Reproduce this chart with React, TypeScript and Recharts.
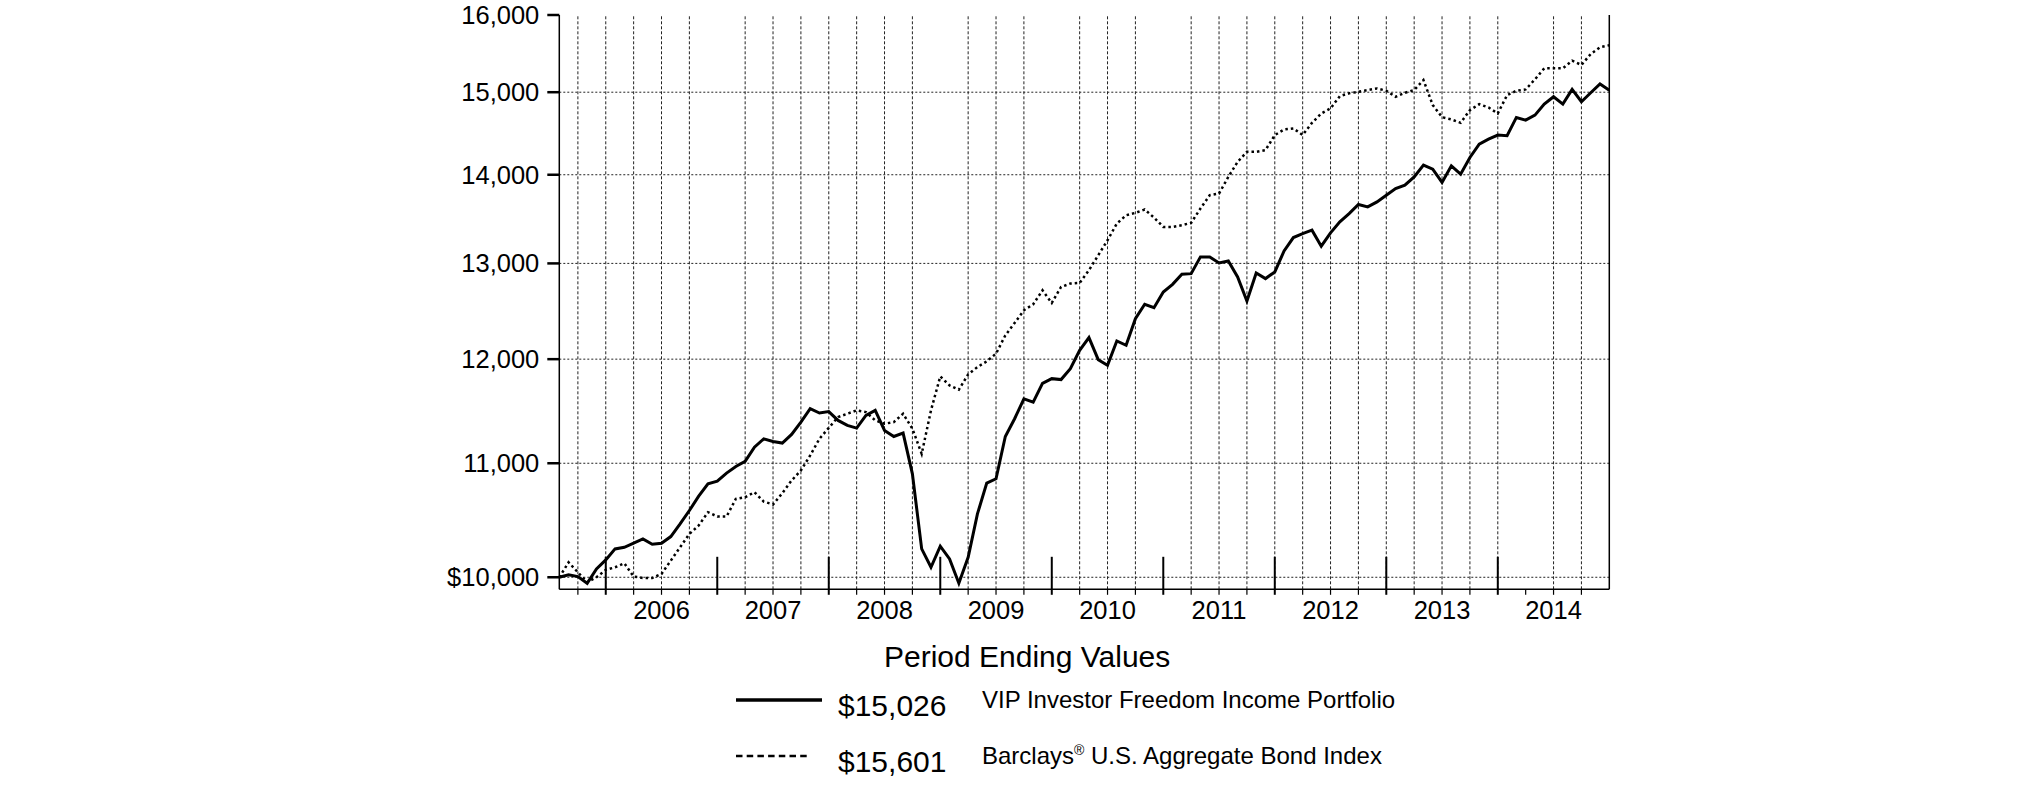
import React from "react";
import { LineChart, Line, XAxis, YAxis, ReferenceLine, Legend } from "recharts";

const FONT = "'Liberation Sans', Arial, Helvetica, sans-serif";

// x = months after Dec 31, 2005; the series start on Jul 31, 2005
const FIRST_MONTH = -5;

const fundValues = [
  10000, 10020, 10006, 9950, 10070,
  10146, 10240, 10254, 10289, 10326, 10280, 10289, 10346, 10456, 10574, 10701, 10813,
  10837, 10910, 10971, 11017, 11149, 11227, 11202, 11187, 11268, 11385, 11514, 11472,
  11485, 11401, 11354, 11328, 11449, 11497, 11306, 11249, 11281, 10903, 10240, 10084,
  10263, 10155, 9950, 10169, 10544, 10819, 10858, 11249, 11417, 11609, 11577, 11760,
  11806, 11797, 11905, 12089, 12218, 11995, 11938, 12184, 12140, 12413, 12563, 12528,
  12693, 12775, 12883, 12889, 13071, 13071, 13005, 13027, 12853, 12598, 12897, 12836,
  12908, 13136, 13284, 13328, 13366, 13188, 13336, 13460, 13553, 13656, 13629, 13686,
  13763, 13840, 13879, 13975, 14113, 14065, 13910, 14105, 14007, 14204, 14363, 14423,
  14472, 14464, 14687, 14654, 14715, 14851, 14943, 14851, 15035, 14881, 14993, 15103,
  15026,
];

const indexValues = [
  10000, 10126, 10042, 9958, 10000,
  10062, 10084, 10118, 10006, 9994, 9994, 10028, 10140, 10254, 10369, 10442, 10559,
  10521, 10521, 10677, 10692, 10737, 10653, 10627, 10728, 10843, 10934, 11072, 11228,
  11330, 11433, 11465, 11497, 11481, 11401, 11370, 11385, 11465, 11322, 11087, 11497,
  11828, 11740, 11698, 11848, 11921, 11978, 12055, 12241, 12369, 12500, 12563, 12711,
  12577, 12747, 12783, 12790, 12926, 13089, 13254, 13440, 13534, 13561, 13599, 13508,
  13403, 13403, 13422, 13448, 13610, 13763, 13782, 13975, 14152, 14271, 14271, 14291,
  14472, 14540, 14553, 14472, 14620, 14736, 14798, 14951, 14986, 15006, 15027, 15047,
  15018, 14943, 14993, 15027, 15153, 14840, 14690, 14663, 14621, 14777, 14851, 14810,
  14736, 14964, 15018, 15035, 15162, 15302, 15302, 15302, 15400, 15345, 15487, 15574,
  15601,
];

const yTicks = [10000, 11000, 12000, 13000, 14000, 15000, 16000];
const yearLabels = ["2006", "2007", "2008", "2009", "2010", "2011", "2012", "2013", "2014"];
const quarterTicks = [
  -3, 0, 3, 6, 9, 12, 15, 18, 21, 24, 27, 30, 33, 36, 39, 42, 45, 48, 51,
  54, 57, 60, 63, 66, 69, 72, 75, 78, 81, 84, 87, 90, 93, 96, 99, 102, 105,
];
// quarter lines that the original grid leaves out
const skippedGridMonths = [12, 36, 48, 60, 99];
const gridMonths = quarterTicks.filter((m) => !skippedGridMonths.includes(m));
const gridValues = yTicks.filter((v) => v < 16000);

const legendItems = [
  { value: "$15,026", name: "VIP Investor Freedom Income Portfolio", dashed: false },
  { value: "$15,601", name: "Barclays", sup: "®", rest: " U.S. Aggregate Bond Index", dashed: true },
];

const data = fundValues.map((v, i) => ({
  m: FIRST_MONTH + i,
  fund: v,
  index: indexValues[i],
}));

const fmtDollar = (v: number) =>
  v === 10000 ? "$10,000" : v.toLocaleString("en-US");

function QuarterTick(props: any) {
  const { x, y, payload } = props;
  const m = payload.value as number;
  const isYear = m % 12 === 0;
  return (
    <g>
      <line
        x1={x}
        x2={x}
        y1={isYear ? y - 32.5 : y}
        y2={y + 5.5}
        stroke="#000"
        strokeWidth={isYear ? 2 : 1.2}
      />
      {m % 12 === 6 && (
        <text
          x={x}
          y={y + 30}
          textAnchor="middle"
          fontSize={25.5}
          fontFamily={FONT}
          fill="#000"
        >
          {yearLabels[(m - 6) / 12]}
        </text>
      )}
    </g>
  );
}

function PeriodLegend() {
  const rows = [700, 756];
  return (
    <svg width={2025} height={806} style={{ display: "block" }}>
      <text x={884} y={667} fontSize={30} fontFamily={FONT} fill="#000">
        Period Ending Values
      </text>
      {legendItems.map((item, i) => {
        const ry = rows[i];
        return (
          <g key={item.value}>
            <line
              x1={736}
              x2={item.dashed ? 810 : 822}
              y1={ry}
              y2={ry}
              stroke="#000"
              strokeWidth={item.dashed ? 2.5 : 3.5}
              strokeDasharray={item.dashed ? "6.5 4.2" : undefined}
            />
            <text x={838} y={ry + 15.5} fontSize={30} fontFamily={FONT} fill="#000">
              {item.value}
            </text>
            <text x={982} y={ry + 7.5} fontSize={24} fontFamily={FONT} fill="#000">
              {item.name}
              {item.sup && (
                <tspan fontSize={14} dy={-9}>
                  {item.sup}
                </tspan>
              )}
              {item.rest && <tspan dy={item.sup ? 9 : 0}>{item.rest}</tspan>}
            </text>
          </g>
        );
      })}
    </svg>
  );
}

export default function App() {
  return (
    <div style={{ position: "absolute", left: 0, top: 0, width: 2025, height: 806, background: "#fff" }}>
      <LineChart
        width={2025}
        height={806}
        data={data}
        margin={{ top: 15, right: 415.7, left: 439.3, bottom: 176.7 }}
      >
        <XAxis
          dataKey="m"
          type="number"
          domain={[FIRST_MONTH, 108]}
          ticks={quarterTicks}
          interval={0}
          height={40}
          tickSize={0}
          tickMargin={0}
          tickLine={false}
          tick={<QuarterTick />}
          axisLine={{ stroke: "#000", strokeWidth: 1.5 }}
        />
        <YAxis
          scale="log"
          domain={[9900, 16000]}
          allowDataOverflow
          ticks={yTicks}
          interval={0}
          width={120}
          tickSize={12}
          tickMargin={8}
          tickFormatter={fmtDollar}
          tick={{ fontSize: 25.5, fill: "#000", fontFamily: FONT }}
          tickLine={{ stroke: "#000", strokeWidth: 2.5 }}
          axisLine={{ stroke: "#000", strokeWidth: 1.5 }}
        />
        {gridValues.map((v) => (
          <ReferenceLine key={"h" + v} y={v} stroke="#222" strokeWidth={1} strokeDasharray="2 2" />
        ))}
        {gridMonths.map((m) => (
          <ReferenceLine key={"v" + m} x={m} stroke="#222" strokeWidth={1} strokeDasharray="3 2" />
        ))}
        <ReferenceLine x={108} stroke="#000" strokeWidth={1.5} />
        <Line
          type="linear"
          dataKey="index"
          stroke="#000"
          strokeWidth={2.5}
          strokeDasharray="2.5 3"
          dot={false}
          isAnimationActive={false}
        />
        <Line
          type="linear"
          dataKey="fund"
          stroke="#000"
          strokeWidth={3}
          dot={false}
          isAnimationActive={false}
        />
        <Legend
          layout="vertical"
          align="center"
          verticalAlign="middle"
          content={() => <PeriodLegend />}
          wrapperStyle={{ position: "absolute", left: 0, top: 0, width: 2025, height: 806, pointerEvents: "none" }}
        />
      </LineChart>
    </div>
  );
}
